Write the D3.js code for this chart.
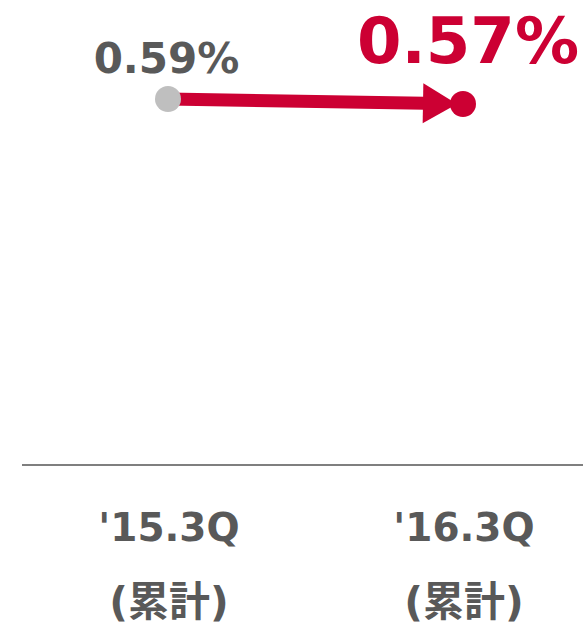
<!DOCTYPE html>
<html>
<head>
<meta charset="utf-8">
<script src="https://cdn.jsdelivr.net/npm/d3@7"></script>
<style>
  html, body { margin: 0; padding: 0; background: #fff; }
  svg { display: block; }
</style>
</head>
<body>
<svg id="chart" width="583" height="629"></svg>
<script>
const categories = ["'15.3Q", "'16.3Q"];
const subLabels = ["(累計)", "(累計)"];
const values = [0.59, 0.57];
const valueLabels = ["0.59%", "0.57%"];

const svg = d3.select("#chart");
const gray = "#595959";
const red = "#cc0033";
const font = "'DejaVu Sans', 'Noto Sans CJK JP', sans-serif";

const x = d3.scalePoint().domain(categories).range([168, 463]).padding(0);
const y = d3.scaleLinear().domain([0.5, 0.6]).range([121.5, 96.5]);

// axis baseline
svg.append("line")
  .attr("x1", 22).attr("x2", 583)
  .attr("y1", 465).attr("y2", 465)
  .attr("stroke", "#7f7f7f").attr("stroke-width", 2);

// category labels
svg.selectAll("text.cat").data(categories).join("text")
  .attr("class", "cat")
  .attr("x", d => x(d) + 1).attr("y", 541)
  .attr("text-anchor", "middle")
  .attr("font-family", font).attr("font-weight", "bold")
  .attr("font-size", 39).attr("fill", gray)
  .text(d => d);

svg.selectAll("text.sub").data(categories).join("text")
  .attr("class", "sub")
  .attr("x", d => x(d) + 1).attr("y", 616)
  .attr("text-anchor", "middle")
  .attr("font-family", font).attr("font-weight", "bold")
  .attr("font-size", 41).attr("fill", gray)
  .text((d, i) => subLabels[i]);

// arrow line
const p0 = [x(categories[0]), y(values[0])];
const p1 = [x(categories[1]), y(values[1])];
const dx = p1[0] - p0[0], dy = p1[1] - p0[1];
const len = Math.hypot(dx, dy);
const ux = dx / len, uy = dy / len;
const tipBack = 6, headLen = 34, headHalf = 20;
const tip = [p1[0] - ux * tipBack, p1[1] - uy * tipBack];
const base = [tip[0] - ux * headLen, tip[1] - uy * headLen];

svg.append("line")
  .attr("x1", p0[0]).attr("y1", p0[1])
  .attr("x2", base[0] + ux * 2).attr("y2", base[1] + uy * 2)
  .attr("stroke", red).attr("stroke-width", 13);

svg.append("path")
  .attr("d", d3.line()([
    tip,
    [base[0] - uy * headHalf, base[1] + ux * headHalf],
    [base[0] + uy * headHalf, base[1] - ux * headHalf]
  ]) + "Z")
  .attr("fill", red);

// points
svg.selectAll("circle.pt").data(values).join("circle")
  .attr("class", "pt")
  .attr("cx", (d, i) => x(categories[i]))
  .attr("cy", d => y(d))
  .attr("r", 13)
  .attr("fill", (d, i) => i === 0 ? "#bfbfbf" : red);

// value labels
svg.append("text")
  .attr("x", x(categories[0]) - 1.5).attr("y", 73)
  .attr("text-anchor", "middle")
  .attr("font-family", font).attr("font-weight", "bold")
  .attr("font-size", 42).attr("fill", gray)
  .text(valueLabels[0]);

svg.append("text")
  .attr("x", x(categories[1]) + 5).attr("y", 63)
  .attr("text-anchor", "middle")
  .attr("font-family", font).attr("font-weight", "bold")
  .attr("font-size", 64).attr("fill", red)
  .text(valueLabels[1]);
</script>
</body>
</html>
